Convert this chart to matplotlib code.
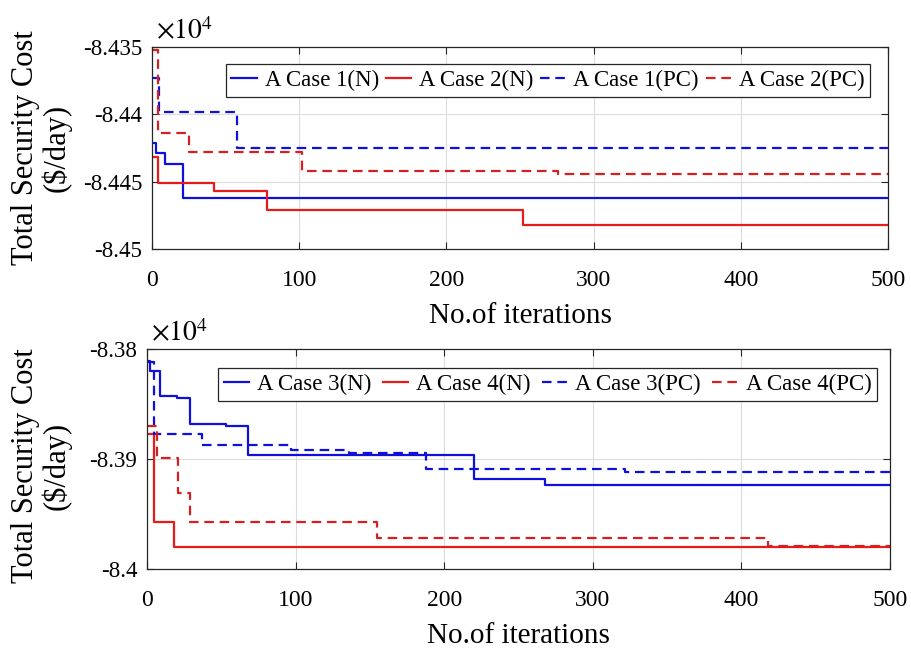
import matplotlib
matplotlib.use('Agg')
import matplotlib.pyplot as plt
from matplotlib.ticker import FuncFormatter

plt.rcParams['font.family'] = 'Liberation Serif'
plt.rcParams['mathtext.fontset'] = 'stix'

# values in units of 1e4 $/day, step changes at the given iterations
c1_n_it = [0, 3, 9, 21, 500]
c1_n = [-8.4421, -8.4429, -8.4437, -8.4462, -8.4462]
c2_n_it = [0, 4, 42, 78, 252, 500]
c2_n = [-8.4432, -8.4451, -8.4457, -8.4471, -8.4482, -8.4482]
c1_pc_it = [0, 5, 58, 500]
c1_pc = [-8.4373, -8.4398, -8.4425, -8.4425]
c2_pc_it = [0, 4, 25, 102, 276, 500]
c2_pc = [-8.4352, -8.4414, -8.4428, -8.4442, -8.4444, -8.4444]

c3_n_it = [0, 2, 9, 20, 29, 53, 68, 220, 268, 500]
c3_n = [-8.3811, -8.3820, -8.3843, -8.3845, -8.3868, -8.3870, -8.3896, -8.3918, -8.3924, -8.3924]
c4_n_it = [0, 5, 18, 500]
c4_n = [-8.3877, -8.3957, -8.3980, -8.3980]
c3_pc_it = [0, 5, 37, 97, 136, 188, 322, 500]
c3_pc = [-8.3812, -8.3877, -8.3887, -8.3892, -8.3895, -8.3909, -8.3912, -8.3912]
c4_pc_it = [0, 7, 21, 29, 155, 418, 500]
c4_pc = [-8.3870, -8.3899, -8.3931, -8.3957, -8.3972, -8.3979, -8.3979]

top_yticks = [-8.45, -8.445, -8.44, -8.435]
bot_yticks = [-8.4, -8.39, -8.38]
xticks = [0, 100, 200, 300, 400, 500]

BLUE = '#1010dc'
RED = '#e81a1a'
DRED = '#d42020'
DASH = (4.3, 2.6)

fig = plt.figure(figsize=(9.12, 6.54), dpi=100)
ax1 = fig.add_axes([152/912, 1-249/654, 736/912, 202/654])
ax2 = fig.add_axes([147/912, 1-569/654, 743/912, 220/654])


def style(ax, yticks, ylab_x, ylab_y):
    ax.set_xlim(0, 500)
    ax.set_ylim(yticks[0], yticks[-1])
    ax.set_xticks(xticks)
    ax.set_yticks(yticks)
    ax.yaxis.set_major_formatter(FuncFormatter(lambda v, p: '%g' % v))
    ax.grid(True, color='#dcdcdc', lw=0.8)
    ax.set_axisbelow(True)
    ax.tick_params(direction='in', top=True, right=True,
                   length=5, width=0.8, color='#262626')
    ax.tick_params(axis='x', labelsize=17, pad=15)
    ax.tick_params(axis='y', labelsize=16.5, pad=7)
    for s in ax.spines.values():
        s.set_color('#262626')
        s.set_linewidth(0.9)
    ax.set_xlabel('No.of iterations', fontsize=21, labelpad=9)
    ax.set_ylabel('Total Security Cost\n($/day)', fontsize=22, linespacing=1.05)
    ax.yaxis.set_label_coords(ylab_x, ylab_y)
    ax.text(0.005, 1.01, r'$\times10^4$', transform=ax.transAxes,
            fontsize=20, ha='left', va='bottom')


ax1.plot(c1_n_it, c1_n, drawstyle='steps-post', color=BLUE, lw=1.6, label='A Case 1(N)')
ax1.plot(c2_n_it, c2_n, drawstyle='steps-post', color=RED, lw=1.6, label='A Case 2(N)')
ax1.plot(c1_pc_it, c1_pc, drawstyle='steps-post', color=BLUE, lw=1.6, dashes=DASH, label='A Case 1(PC)')
ax1.plot(c2_pc_it, c2_pc, drawstyle='steps-post', color=DRED, lw=1.6, dashes=DASH, label='A Case 2(PC)')
style(ax1, top_yticks, (72-152)/736, 0.5)

ax2.plot(c3_n_it, c3_n, drawstyle='steps-post', color=BLUE, lw=1.6, label='A Case 3(N)')
ax2.plot(c4_n_it, c4_n, drawstyle='steps-post', color=RED, lw=1.6, label='A Case 4(N)')
ax2.plot(c3_pc_it, c3_pc, drawstyle='steps-post', color=BLUE, lw=1.6, dashes=DASH, label='A Case 3(PC)')
ax2.plot(c4_pc_it, c4_pc, drawstyle='steps-post', color=DRED, lw=1.6, dashes=DASH, label='A Case 4(PC)')
style(ax2, bot_yticks, (72-147)/743, 0.47)

for ax, anchor, cs in [(ax1, (0.976, 0.916), 0.3), (ax2, (0.9825, 0.9136), 0.5)]:
    leg = ax.legend(loc='upper right', bbox_to_anchor=anchor, ncol=4, fontsize=16.5,
                    frameon=True, fancybox=False, edgecolor='#262626', framealpha=1,
                    handlelength=1.1, handletextpad=0.35, columnspacing=cs,
                    borderpad=0.25, borderaxespad=0)
    leg.get_frame().set_linewidth(0.9)

fig.savefig('out.png', dpi=100)
